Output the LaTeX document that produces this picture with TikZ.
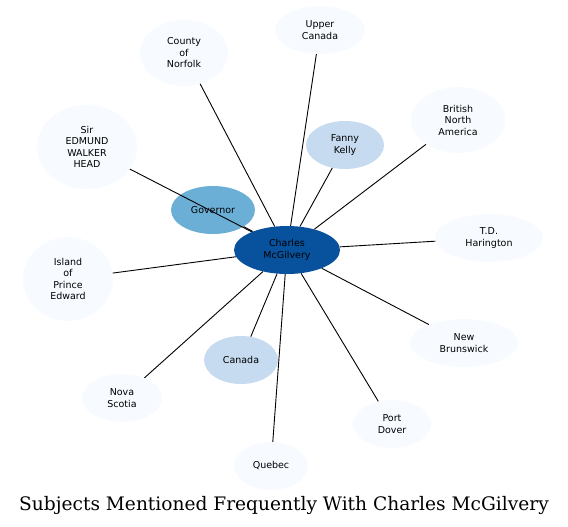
\documentclass[tikz,border=0pt]{standalone}
\usepackage{fontspec}
\setmainfont{DejaVu Sans}
\newfontfamily\titlefont{DejaVu Serif}
\usepackage{tikz}
\usetikzlibrary{shapes.geometric}

\definecolor{blueA}{HTML}{08519C}
\definecolor{blueB}{HTML}{6BAED6}
\definecolor{blueC}{HTML}{C6DBEF}
\definecolor{blueD}{HTML}{F7FBFF}

\begin{document}
\begin{tikzpicture}[
  x=1pt, y=-1pt,
  font=\fontsize{9.5}{11.5}\selectfont,
  topic/.style={ellipse, draw=none, fill=blueD, inner sep=0pt, align=center},
  hub/.style={topic, fill=blueA},
  near/.style={topic, fill=blueC},
  link/.style={draw=black, line width=0.9pt}
]
  \useasboundingbox (0,0) rectangle (568,527);

  % centre and the subjects round it
  \node[hub, minimum width=106pt, minimum height=48pt] (charles) at (287,250) {Charles\\McGilvery};
  \node[topic, fill=blueB, minimum width=84pt, minimum height=48pt] (governor) at (213,210) {Governor};
  \node[near, minimum width=78pt, minimum height=48pt] (fanny) at (345,145) {Fanny\\Kelly};
  \node[near, minimum width=74pt, minimum height=48pt] (canada) at (241,360) {Canada};
  \node[topic, minimum width=90pt, minimum height=48pt] (upper) at (320,30) {Upper\\Canada};
  \node[topic, minimum width=88pt, minimum height=66pt] (norfolk) at (184,53) {County\\of\\Norfolk};
  \node[topic, minimum width=94pt, minimum height=66pt] (bna) at (458,120) {British\\North\\America};
  \node[topic, minimum width=100pt, minimum height=84pt] (head) at (87,147) {Sir\\EDMUND\\WALKER\\HEAD};
  \node[topic, minimum width=108pt, minimum height=48pt] (harington) at (489,238) {T.D.\\Harington};
  \node[topic, minimum width=90pt, minimum height=84pt] (island) at (68,279) {Island\\of\\Prince\\Edward};
  \node[topic, minimum width=108pt, minimum height=48pt] (brunswick) at (464,343) {New\\Brunswick};
  \node[topic, minimum width=80pt, minimum height=48pt] (nova) at (122,398) {Nova\\Scotia};
  \node[topic, minimum width=78pt, minimum height=48pt] (dover) at (392,424) {Port\\Dover};
  \node[topic, minimum width=74pt, minimum height=48pt] (quebec) at (271,466) {Quebec};

  % edges
  \foreach \t in {governor, fanny, canada, upper, norfolk, bna, head,
                  harington, island, brunswick, nova, dover, quebec}
    \draw[link] (charles) -- (\t);

  \node[font=\titlefont\fontsize{18.6}{21}\selectfont] (title) at (284,505) {Subjects Mentioned Frequently With Charles McGilvery};
\end{tikzpicture}
\end{document}
